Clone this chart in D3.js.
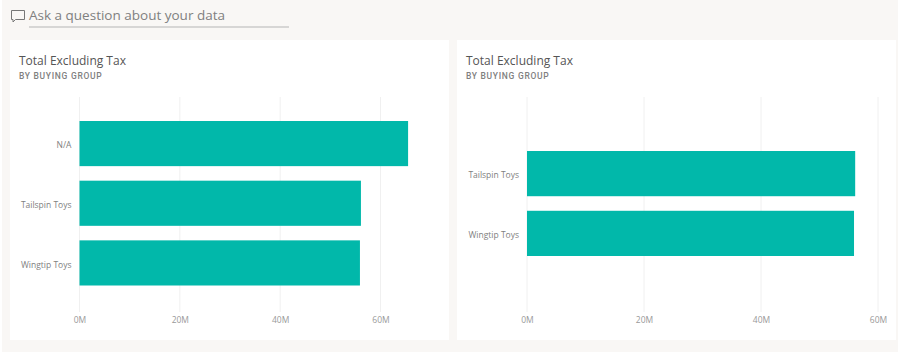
<!DOCTYPE html>
<html><head><meta charset="utf-8">
<script src="https://cdn.jsdelivr.net/npm/d3@7/dist/d3.min.js"></script>
<style>html,body{margin:0;padding:0;background:#fff;overflow:hidden}svg{display:block}</style>
</head><body><svg id="c" width="900" height="354"></svg>
<script>
const questionText = "Ask a question about your data";
const chartTitle = "Total Excluding Tax";
const chartSubtitle = "BY BUYING GROUP";
const leftCategories = ["N/A", "Tailspin Toys", "Wingtip Toys"];
const leftValues = [65.5, 56.1, 55.9];
const rightCategories = ["Tailspin Toys", "Wingtip Toys"];
const rightValues = [56.1, 55.9];
const tickValues = [0, 20, 40, 60];

const font = "'Open Sans', sans-serif";
const svg = d3.select("#c");
svg.append("rect").attr("x",2).attr("y",0).attr("width",896).attr("height",352).attr("fill","#f9f7f5");

// Q&A box
const q = svg.append("g");
q.append("path").attr("d","M11.5 10.5h13v9h-9l-2.5 2.5v-2.5h-1.5z").attr("fill","none").attr("stroke","#777").attr("stroke-width",1);
q.append("text").attr("x",29).attr("y",20).attr("font-family",font).attr("font-size",13.5).attr("fill","#808080").text(questionText);
q.append("line").attr("x1",29).attr("x2",289).attr("y1",27).attr("y2",27).attr("stroke","#b5b5b5").attr("stroke-width",1);

function card(o){
  const g = svg.append("g");
  g.append("rect").attr("x",o.x).attr("y",40).attr("width",o.w).attr("height",300).attr("fill","#fff");
  g.append("text").attr("x",o.x+9).attr("y",65).attr("font-family",font).attr("font-size",12).attr("fill","#555").text(chartTitle);
  g.append("text").attr("x",o.x+9).attr("y",79).attr("font-family","Roboto, sans-serif").attr("font-weight",500).attr("font-size",8.5).attr("letter-spacing",0.7).attr("fill","#808080").text(chartSubtitle);

  const x = d3.scaleLinear().domain([0,60]).range([o.x0,o.x60]);
  const y = d3.scaleBand().domain(o.cats).range(o.yr).paddingInner(14.5/59.5).paddingOuter(0);

  const ax = d3.axisBottom(x).tickValues(tickValues).tickFormat(d=>d+"M").tickSize(0).tickPadding(0);
  const axG = g.append("g").attr("transform","translate(0,316.5)").call(ax);
  axG.select(".domain").remove();
  axG.selectAll("text").attr("y",0).attr("dy","0.71em").attr("font-family",font).attr("font-size",8.5).attr("fill","#999");

  g.append("g").selectAll("line").data(tickValues).join("line")
    .attr("x1",d=>x(d)).attr("x2",d=>x(d)).attr("y1",97).attr("y2",312)
    .attr("stroke","#f0f0f0").attr("stroke-width",1);

  g.append("g").selectAll("rect").data(o.vals).join("rect")
    .attr("x",x(0)).attr("y",(d,i)=>y(o.cats[i]))
    .attr("width",d=>x(d)-x(0)).attr("height",y.bandwidth()).attr("fill","#01b8aa");

  const ay = d3.axisLeft(y).tickSize(0).tickPadding(0);
  const ayG = g.append("g").attr("transform",`translate(${o.x0-8},2)`).call(ay);
  ayG.select(".domain").remove();
  ayG.selectAll("text").attr("font-family",font).attr("font-size",8.5).attr("fill","#808080");
}
card({x:10,w:439,x0:79.5,x60:380.5,cats:leftCategories,vals:leftValues,yr:[121,285.5]});
card({x:457,w:439,x0:527,x60:878,cats:rightCategories,vals:rightValues,yr:[151,256]});
</script></body></html>
